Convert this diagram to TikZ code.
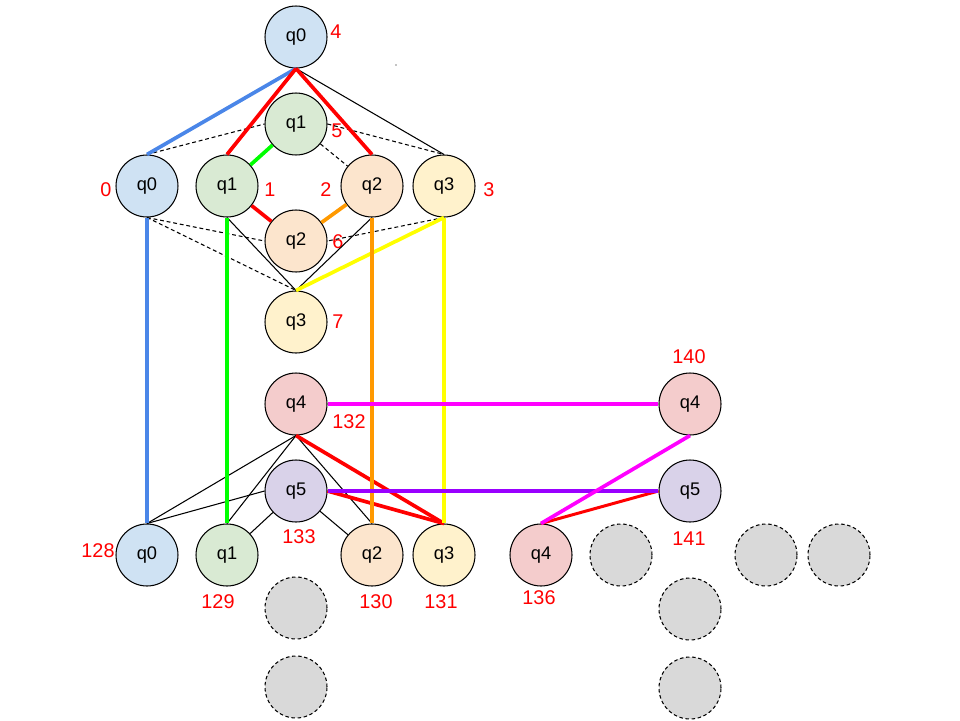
\documentclass[tikz,border=0pt]{standalone}
\usepackage{fontspec}
\setmainfont{Liberation Sans}
\usepackage{tikz}
\usetikzlibrary{positioning}
\definecolor{qzero}{HTML}{CFE2F3}
\definecolor{qone}{HTML}{D9EAD3}
\definecolor{qtwo}{HTML}{FCE5CD}
\definecolor{qthree}{HTML}{FFF2CC}
\definecolor{qfour}{HTML}{F4CCCC}
\definecolor{qfive}{HTML}{D9D2E9}
\definecolor{spare}{HTML}{D9D9D9}
\definecolor{lblue}{HTML}{4A86E8}
\definecolor{lred}{HTML}{FF0000}
\definecolor{lgreen}{HTML}{00FF00}
\definecolor{lorange}{HTML}{FF9900}
\definecolor{lyellow}{HTML}{FFFF00}
\definecolor{lmag}{HTML}{FF00FF}
\definecolor{lpurple}{HTML}{9900FF}

\begin{document}
\begin{tikzpicture}[x=0.02cm,y=-0.02cm,
  qb/.style={circle,draw,line width=0.6pt,minimum size=1.24cm,inner sep=0pt,font=\fontsize{10.4}{12}\selectfont},
  empty/.style={qb,fill=spare,dashed,dash pattern=on 2pt off 1.5pt},
  num/.style={text=lred,inner sep=0pt,font=\fontsize{11.3}{13}\selectfont},
  wire/.style={line width=0.6pt},
  soft/.style={line width=0.6pt,dash pattern=on 2.2pt off 1.6pt},
  pathline/.style={line width=2.1pt}]
\useasboundingbox (0,0) rectangle (960,720);
% upper block
\node[qb,fill=qzero] (t0) at (296,37) {q0};
\node[qb,fill=qone] (t1) at (296,124) {q1};
\node[qb,fill=qzero] (a0) at (147,186) {q0};
\node[qb,fill=qone] (a1) at (227,186) {q1};
\node[qb,fill=qtwo] (a2) at (372,186) {q2};
\node[qb,fill=qthree] (a3) at (444,186) {q3};
\node[qb,fill=qtwo] (t2) at (296,241) {q2};
\node[qb,fill=qthree] (t3) at (296,322) {q3};
% lower block
\node[qb,fill=qfour] (b4) at (296,404) {q4};
\node[qb,fill=qfive] (b5) at (296,491) {q5};
\node[qb,fill=qzero] (b0) at (147,555) {q0};
\node[qb,fill=qone] (b1) at (227,555) {q1};
\node[qb,fill=qtwo] (b2) at (372,555) {q2};
\node[qb,fill=qthree] (b3) at (444,555) {q3};
\node[qb,fill=qfour] (r4) at (690,404) {q4};
\node[qb,fill=qfive] (r5) at (690,491) {q5};
\node[qb,fill=qfour] (c4) at (541,555) {q4};
% unused slots
\node[empty] (e1) at (296,608) {};
\node[empty] (e2) at (296,687) {};
\node[empty] (e3) at (621,555) {};
\node[empty] (e4) at (690,609) {};
\node[empty] (e5) at (690,688) {};
\node[empty] (e6) at (766,555) {};
\node[empty] (e7) at (839,555) {};
% indices
\node[num] (n4) at (336,32) {4};
\node[num] (n5) at (337,131) {5};
\node[num] (n0) at (106,190) {0};
\node[num] (n1) at (270,190) {1};
\node[num] (n2) at (326,190) {2};
\node[num] (n3) at (489,190) {3};
\node[num] (n6) at (338,242) {6};
\node[num] (n7) at (338,322) {7};
\node[num] (n132) at (349,422) {132};
\node[num] (n133) at (299,537) {133};
\node[num] (n128) at (98,551) {128};
\node[num] (n129) at (218,602) {129};
\node[num] (n130) at (376,602) {130};
\node[num] (n131) at (441,602) {131};
\node[num] (n140) at (689,357) {140};
\node[num] (n141) at (689,539) {141};
\node[num] (n136) at (539,598) {136};
\fill (396,65) circle (0.7);
% thin couplings
\draw[wire] (t0.south) -- (a3.north);
\draw[soft] (a0.north) -- (t1.west);
\draw[soft] (t1.east) -- (a3.north);
\draw[soft] (t1) -- (a2);
\draw[soft] (a0.south) -- (t2.west);
\draw[soft] (a0.south) -- (t3.north);
\draw[soft] (a3.south) -- (t2.east);
\draw[wire] (a1.south) -- (t3.north);
\draw[wire] (a2.south) -- (t3.north);
\draw[wire] (b4.south) -- (b0.north);
\draw[wire] (b4.south) -- (b1.north);
\draw[wire] (b4.south) -- (b2.north);
\draw[wire] (b5.west) -- (b0.north);
\draw[wire] (b5) -- (b1);
\draw[wire] (b5) -- (b2);
% coloured paths
\draw[pathline,lblue] (t0.south) -- (a0.north);
\draw[pathline,lred] (t0.south) -- (a1.north);
\draw[pathline,lred] (t0.south) -- (a2.north);
\draw[pathline,lgreen] (a1) -- (t1);
\draw[pathline,lred] (a1) -- (t2);
\draw[pathline,lorange] (a2) -- (t2);
\draw[pathline,lyellow] (a3.south) -- (t3.north);
\draw[pathline,lred] (b4.south) -- (b3.north);
\draw[pathline,lred] (b5.east) -- (b3.north);
\draw[line width=1.7pt,lred] (r5.west) -- (c4.north);
\draw[pathline,lblue] (a0.south) -- (b0.north);
\draw[pathline,lgreen] (a1.south) -- (b1.north);
\draw[pathline,lorange] (a2.south) -- (b2.north);
\draw[pathline,lyellow] (a3.south) -- (b3.north);
\draw[pathline,lmag] (b4.east) -- (r4.west);
\draw[pathline,lpurple] (b5.east) -- (r5.west);
\draw[pathline,lmag] (r4.south) -- (c4.north);
\end{tikzpicture}
\end{document}
